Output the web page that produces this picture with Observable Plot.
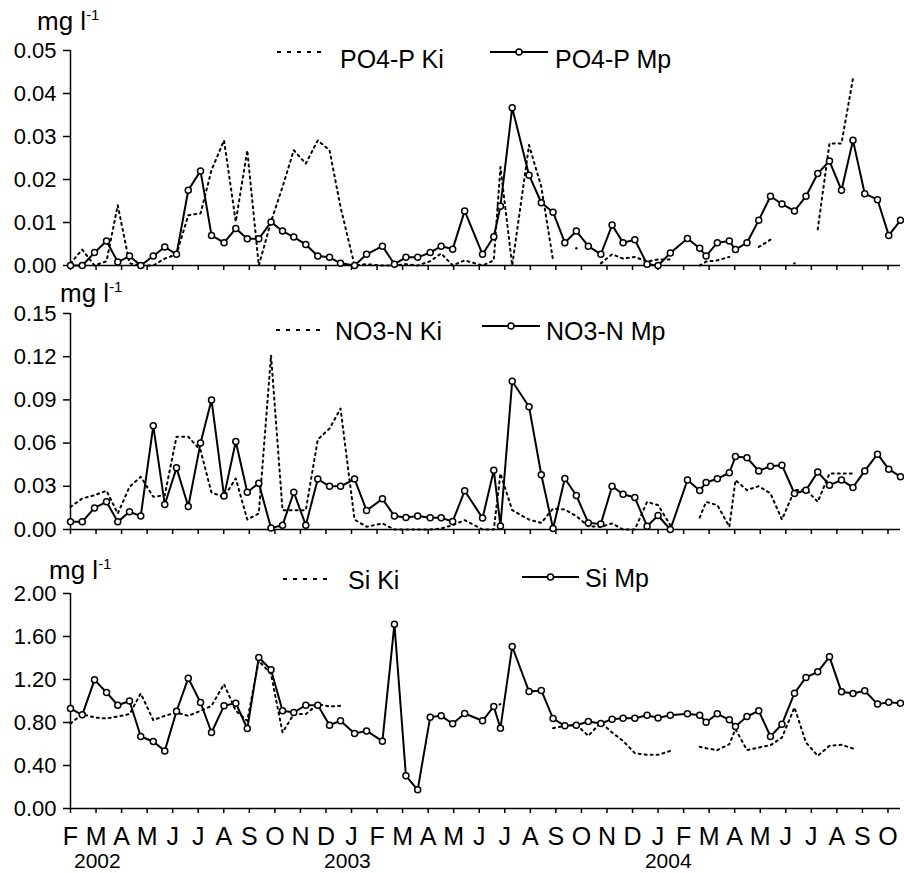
<!DOCTYPE html>
<html><head><meta charset="utf-8">
<script src="https://cdn.jsdelivr.net/npm/d3@7"></script>
<script src="https://cdn.jsdelivr.net/npm/@observablehq/plot@0.6"></script>
<style>
body{margin:0;background:#fff;}
#chart{width:904px;}
#chart svg{display:block;}
</style></head><body><div id="chart"></div>
<script>
// Sampling dates, as months since 1 Feb 2002
const sampleMonths = [0,0.46,0.94,1.41,1.85,2.31,2.75,3.24,3.69,4.15,
 4.61,5.09,5.52,6.01,6.47,6.92,7.37,7.85,8.30,8.74,
 9.21,9.68,10.14,10.57,11.12,11.59,12.21,12.68,13.13,13.59,
 14.08,14.51,14.96,15.43,16.13,16.57,16.83,17.29,17.95,18.43,
 18.89,19.35,19.80,20.27,20.76,21.20,21.63,22.09,22.57,23.00,
 23.48,24.15,24.63,24.88,25.32,25.79,26.03,26.48,26.94,27.40,
 27.85,28.34,28.79,29.25,29.71,30.18,30.63,31.09,31.59,32.03,32.49];
const monthTicks = d3.range(33);
const monthLetters = ["F","M","A","M","J","J","A","S","O","N","D","J","F","M","A","M","J","J","A","S","O","N","D","J","F","M","A","M","J","J","A","S","O"];
const yearLabels = ["2002","2003","2004"];
const yearPositions = [1.05,10.84,23.4];

const po4Mp = [0,0,0.0030,0.0057,0.0008,0.0022,0,0.0022,0.0043,0.0026,
 0.0175,0.0220,0.0070,0.0053,0.0086,0.0062,0.0062,0.0101,0.0080,0.0066,
 0.0049,0.0022,0.0019,0.0005,0,0.0026,0.0045,0.0003,0.0019,0.0019,
 0.0030,0.0045,0.0038,0.0127,0.0026,0.0067,0.0138,0.0367,0.0210,0.0146,
 0.0124,0.0053,0.0080,0.0045,0.0026,0.0094,0.0053,0.0060,0.0003,0,
 0.0029,0.0063,0.0040,0.0022,0.0053,0.0057,0.0037,0.0053,0.0105,0.0161,
 0.0143,0.0127,0.0161,0.0214,0.0243,0.0175,0.0291,0.0167,0.0153,0.0070,0.0105];
const po4Ki = [0.0005,0.0037,0,0.0010,0.0140,0.0005,0,0,0.0016,0.0026,
 0.0117,0.0121,0.0222,0.0291,0.0102,0.0268,0,0.0102,0.0183,0.0268,
 0.0237,0.0291,0.0268,0.0136,0,0.0003,0,0,0.0003,0,
 0.0010,0.0028,0,0.0012,0,0.0012,0.0229,0,0.0280,0.0183,
 0.0012,null,0.0040,null,0.0005,0.0026,0.0016,0.0020,0.0009,0.0014,
 0.0014,null,0,0.0009,0.0012,0.0020,null,null,0.0043,0.0060,
 null,0.0005,null,0.0084,0.0284,0.0284,0.0435,null,null,null,null];

const no3Mp = [0.0053,0.0053,0.0150,0.0192,0.0053,0.0123,0.0093,0.0720,0.0174,0.0428,
 0.0160,0.0600,0.0900,0.0232,0.0611,0.0259,0.0322,0.0010,0.0030,0.0259,
 0.0030,0.0350,0.0300,0.0300,0.0350,0.0132,0.0213,0.0093,0.0083,0.0093,
 0.0081,0.0081,0.0056,0.0269,0.0079,0.0412,0.0025,0.1030,0.0852,0.0380,
 0.0007,0.0354,0.0236,0.0046,0.0039,0.0300,0.0245,0.0222,0.0023,0.0097,
 0,0.0343,0.0271,0.0326,0.0352,0.0394,0.0507,0.0498,0.0407,0.0440,
 0.0447,0.0250,0.0273,0.0400,0.0308,0.0343,0.0292,0.0407,0.0523,0.0419,0.0366];
const no3Ki = [0.0157,0.0215,0.0238,0.0269,0.0111,0.0296,0.0366,0.0227,0.0238,0.0644,
 0.0644,0.0551,0.0255,0.0227,0.0354,0.0069,0.0111,0.1210,0.0134,0.0134,
 0.0134,0.0625,0.0701,0.0840,0.0069,0.0019,0.0042,0,0,0,
 0,0.0007,0.0030,0.0065,0,0,0.0389,0.0134,0.0069,0.0046,
 0.0146,0.0139,0.0093,0.0023,0.0019,0.0042,0,0,0.0192,0.0169,
 0.0030,null,0.0083,0.0192,0.0169,0.0019,0.0343,0.0273,0.0301,0.0250,
 0.0069,0.0273,0.0278,0.0192,0.0389,0.0389,0.0389,null,null,null,null];

const siMp = [0.930,0.871,1.197,1.079,0.961,1.000,0.670,0.623,0.536,0.905,
 1.212,0.986,0.707,0.955,0.980,0.744,1.405,1.290,0.909,0.893,
 0.961,0.961,0.775,0.816,0.698,0.722,0.626,1.715,0.304,0.174,
 0.850,0.862,0.788,0.884,0.816,0.949,0.747,1.507,1.088,1.098,
 0.837,0.769,0.775,0.809,0.791,0.831,0.840,0.840,0.868,0.843,
 0.868,0.881,0.868,0.803,0.881,0.825,0.763,0.856,0.909,0.670,
 0.784,1.073,1.219,1.271,1.411,1.085,1.070,1.095,0.971,0.989,0.980];
const siKi = [0.791,0.878,0.847,0.837,0.856,0.878,1.070,0.822,0.862,0.893,
 0.862,0.909,0.955,1.157,0.909,0.816,1.374,1.250,0.707,0.878,
 0.878,0.971,0.949,0.955,null,null,null,null,null,null,
 null,null,null,null,null,0.949,0.971,null,null,null,
 0.747,0.770,0.780,0.676,0.800,0.707,0.629,0.515,0.499,0.499,
 0.536,null,0.574,0.561,0.543,0.598,0.738,0.543,0.567,0.589,
 0.660,0.940,0.614,0.490,0.583,0.592,0.558,null,null,null,null];

const panels = [
  {mp: po4Mp, ki: po4Ki, kiLabel: "PO4-P Ki", mpLabel: "PO4-P Mp", yDomain:[0,0.05], yTicks:[0,0.01,0.02,0.03,0.04,0.05],
   height:280, marginTop:50, marginBottom:15, showX:false,
   unit:[37,30], kiLeg:{x1:277,x2:325,y:52,tx:340,ty:68}, mpLeg:{x1:490,x2:548,y:52,tx:555,ty:68}},
  {mp: no3Mp, ki: no3Ki, kiLabel: "NO3-N Ki", mpLabel: "NO3-N Mp", yDomain:[0,0.15], yTicks:[0,0.03,0.06,0.09,0.12,0.15],
   height:270, marginTop:33, marginBottom:21, showX:false,
   unit:[60,22], kiLeg:{x1:276,x2:325,y:50,tx:335,ty:60}, mpLeg:{x1:482,x2:540,y:46,tx:546,ty:60}},
  {mp: siMp, ki: siKi, kiLabel: "Si Ki", mpLabel: "Si Mp", yDomain:[0,2], yTicks:[0,0.4,0.8,1.2,1.6,2.0],
   height:323, marginTop:43, marginBottom:65, showX:true,
   unit:[49,29], kiLeg:{x1:283,x2:332,y:29,tx:348,ty:39}, mpLeg:{x1:522,x2:579,y:27,tx:585,ty:37}}
];

const FONT = "'Liberation Sans', Arial, Helvetica, sans-serif";
const chart = document.getElementById("chart");

for (const cfg of panels) {
  const rows = sampleMonths.map((m, i) => ({m, mp: cfg.mp[i], ki: cfg.ki[i]}));
  const isolated = rows.filter((r, i) => r.ki != null &&
    (i === 0 || rows[i-1].ki == null) && (i === rows.length - 1 || rows[i+1].ki == null));
  const marks = [
    Plot.axisY({ticks: cfg.yTicks, tickFormat: d => d.toFixed(2), tickSize: 7, tickPadding: 7,
      fontSize: 22, strokeWidth: 1.5, label: null}),
    Plot.axisX({ticks: monthTicks, tickSize: 5, strokeWidth: 1.5, label: null,
      tickPadding: 14, fontSize: 25,
      tickFormat: cfg.showX ? (d => monthLetters[d]) : (() => "")}),
    Plot.ruleY([0], {stroke: "#000", strokeWidth: 1.5}),
    Plot.ruleX([0], {stroke: "#000", strokeWidth: 1.5}),
    Plot.line(rows, {x: "m", y: "ki", stroke: "#000", strokeWidth: 2, strokeDasharray: "2,4"}),
    Plot.dot(isolated, {x: "m", y: "ki", r: 1.2, fill: "#000"}),
    Plot.line(rows, {x: "m", y: "mp", stroke: "#000", strokeWidth: 2}),
    Plot.dot(rows, {x: "m", y: "mp", r: 3, fill: "#fff", stroke: "#000", strokeWidth: 1.5})
  ];
  if (cfg.showX) {
    marks.push(Plot.text(yearLabels, {x: (d, i) => yearPositions[i], text: d => d, frameAnchor: "bottom",
      dy: 53, fontSize: 21, lineAnchor: "middle", fill: "#000"}));
  }
  const svgEl = Plot.plot({
    width: 904, height: cfg.height,
    marginLeft: 70, marginRight: 4, marginTop: cfg.marginTop, marginBottom: cfg.marginBottom,
    style: {fontFamily: FONT, color: "#000", background: "#fff", overflow: "visible"},
    x: {domain: [0, 32.49], label: null},
    y: {domain: cfg.yDomain, label: null},
    marks
  });
  const svg = d3.select(svgEl);
  // unit label
  const u = svg.append("text").attr("x", cfg.unit[0]).attr("y", cfg.unit[1]).attr("text-anchor", "start")
    .attr("font-size", 26).attr("font-family", FONT).attr("fill", "#000");
  u.append("tspan").text("mg l");
  u.append("tspan").attr("dy", -10).attr("font-size", 15).text("-1");
  // legend
  const g = svg.append("g").attr("font-family", FONT).attr("font-size", 25).attr("fill", "#000")
    .attr("text-anchor", "start");
  g.append("line").attr("x1", cfg.kiLeg.x1).attr("x2", cfg.kiLeg.x2).attr("y1", cfg.kiLeg.y).attr("y2", cfg.kiLeg.y)
    .attr("stroke", "#000").attr("stroke-width", 2).attr("stroke-dasharray", "4,6");
  g.append("text").attr("x", cfg.kiLeg.tx).attr("y", cfg.kiLeg.ty).text(cfg.kiLabel);
  g.append("line").attr("x1", cfg.mpLeg.x1).attr("x2", cfg.mpLeg.x2).attr("y1", cfg.mpLeg.y).attr("y2", cfg.mpLeg.y)
    .attr("stroke", "#000").attr("stroke-width", 2);
  g.append("circle").attr("cx", (cfg.mpLeg.x1 + cfg.mpLeg.x2) / 2).attr("cy", cfg.mpLeg.y).attr("r", 3)
    .attr("fill", "#fff").attr("stroke", "#000").attr("stroke-width", 1.5);
  g.append("text").attr("x", cfg.mpLeg.tx).attr("y", cfg.mpLeg.ty).text(cfg.mpLabel);
  chart.appendChild(svgEl);
}
</script></body></html>
